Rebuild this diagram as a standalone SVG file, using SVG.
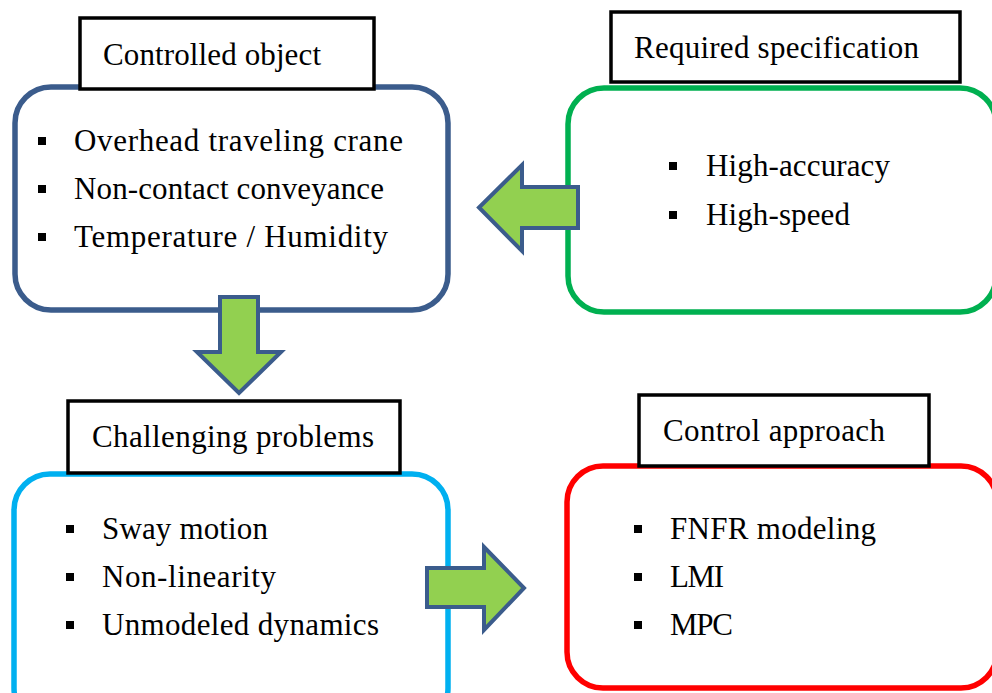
<svg xmlns="http://www.w3.org/2000/svg" width="992" height="693" viewBox="0 0 992 693">
  <style>
    .box { fill: #ffffff; stroke-width: 5.5; }
    .title { fill: #ffffff; stroke: #000000; stroke-width: 3.5; }
    .b { fill: #000000; }
    .arrow { fill: #92D050; stroke: #3B5C8C; stroke-width: 4; }
  </style>
  <rect width="992" height="693" fill="#ffffff"/>

  <g id="controlled-object">
    <rect class="box" x="15" y="87" width="433" height="223" rx="36" ry="36" stroke="#3B5C8C"/>
    <rect class="title" x="80" y="18" width="294" height="71"/>
    <text x="103" y="65" font-size="31" font-family="Liberation Serif, serif" textLength="218">Controlled object</text>
    <rect class="b" x="38" y="137" width="8" height="8"/>
    <text x="74" y="151" font-size="31" font-family="Liberation Serif, serif" textLength="329">Overhead traveling crane</text>
    <rect class="b" x="38" y="185" width="8" height="8"/>
    <text x="74" y="199" font-size="31" font-family="Liberation Serif, serif" textLength="310">Non-contact conveyance</text>
    <rect class="b" x="38" y="233" width="8" height="8"/>
    <text x="74" y="247" font-size="31" font-family="Liberation Serif, serif" textLength="314">Temperature / Humidity</text>
  </g>

  <g id="required-specification">
    <rect class="box" x="568" y="88" width="428" height="224" rx="36" ry="36" stroke="#00B050"/>
    <rect class="title" x="611" y="12" width="349" height="70"/>
    <text x="634" y="58" font-size="31" font-family="Liberation Serif, serif" textLength="285">Required specification</text>
    <rect class="b" x="669" y="162" width="8" height="8"/>
    <text x="706" y="176" font-size="31" font-family="Liberation Serif, serif" textLength="184">High-accuracy</text>
    <rect class="b" x="669" y="211" width="8" height="8"/>
    <text x="706" y="225" font-size="31" font-family="Liberation Serif, serif" textLength="144">High-speed</text>
  </g>

  <g id="challenging-problems">
    <rect class="box" x="14" y="474" width="434" height="250" rx="36" ry="36" stroke="#00B0F0"/>
    <rect class="title" x="68" y="401" width="332" height="72"/>
    <text x="92" y="447" font-size="31" font-family="Liberation Serif, serif" textLength="282">Challenging problems</text>
    <rect class="b" x="66" y="525" width="8" height="8"/>
    <text x="102" y="539" font-size="31" font-family="Liberation Serif, serif" textLength="166">Sway motion</text>
    <rect class="b" x="66" y="573" width="8" height="8"/>
    <text x="102" y="587" font-size="31" font-family="Liberation Serif, serif" textLength="174">Non-linearity</text>
    <rect class="b" x="66" y="621" width="8" height="8"/>
    <text x="102" y="635" font-size="31" font-family="Liberation Serif, serif" textLength="277">Unmodeled dynamics</text>
  </g>

  <g id="control-approach">
    <rect class="box" x="567" y="466" width="430" height="222" rx="36" ry="36" stroke="#FF0000"/>
    <rect class="title" x="639" y="395" width="290" height="71"/>
    <text x="663" y="441" font-size="31" font-family="Liberation Serif, serif" textLength="222">Control approach</text>
    <rect class="b" x="634" y="525" width="8" height="8"/>
    <text x="670" y="539" font-size="31" font-family="Liberation Serif, serif" textLength="206">FNFR modeling</text>
    <rect class="b" x="634" y="573" width="8" height="8"/>
    <text x="670" y="587" font-size="31" font-family="Liberation Serif, serif" textLength="54">LMI</text>
    <rect class="b" x="634" y="621" width="8" height="8"/>
    <text x="670" y="635" font-size="31" font-family="Liberation Serif, serif" textLength="63">MPC</text>
  </g>

  <g id="connectors">
    <polygon class="arrow" points="578,187 522,187 522,165 479,207.5 522,251 522,228 578,228"/>
    <polygon class="arrow" points="220,297 258,297 258,352 281,352 239,393 197,352 220,352"/>
    <polygon class="arrow" points="427,568 484,568 484,547 524,588 484,630 484,607 427,607"/>
  </g>
</svg>
